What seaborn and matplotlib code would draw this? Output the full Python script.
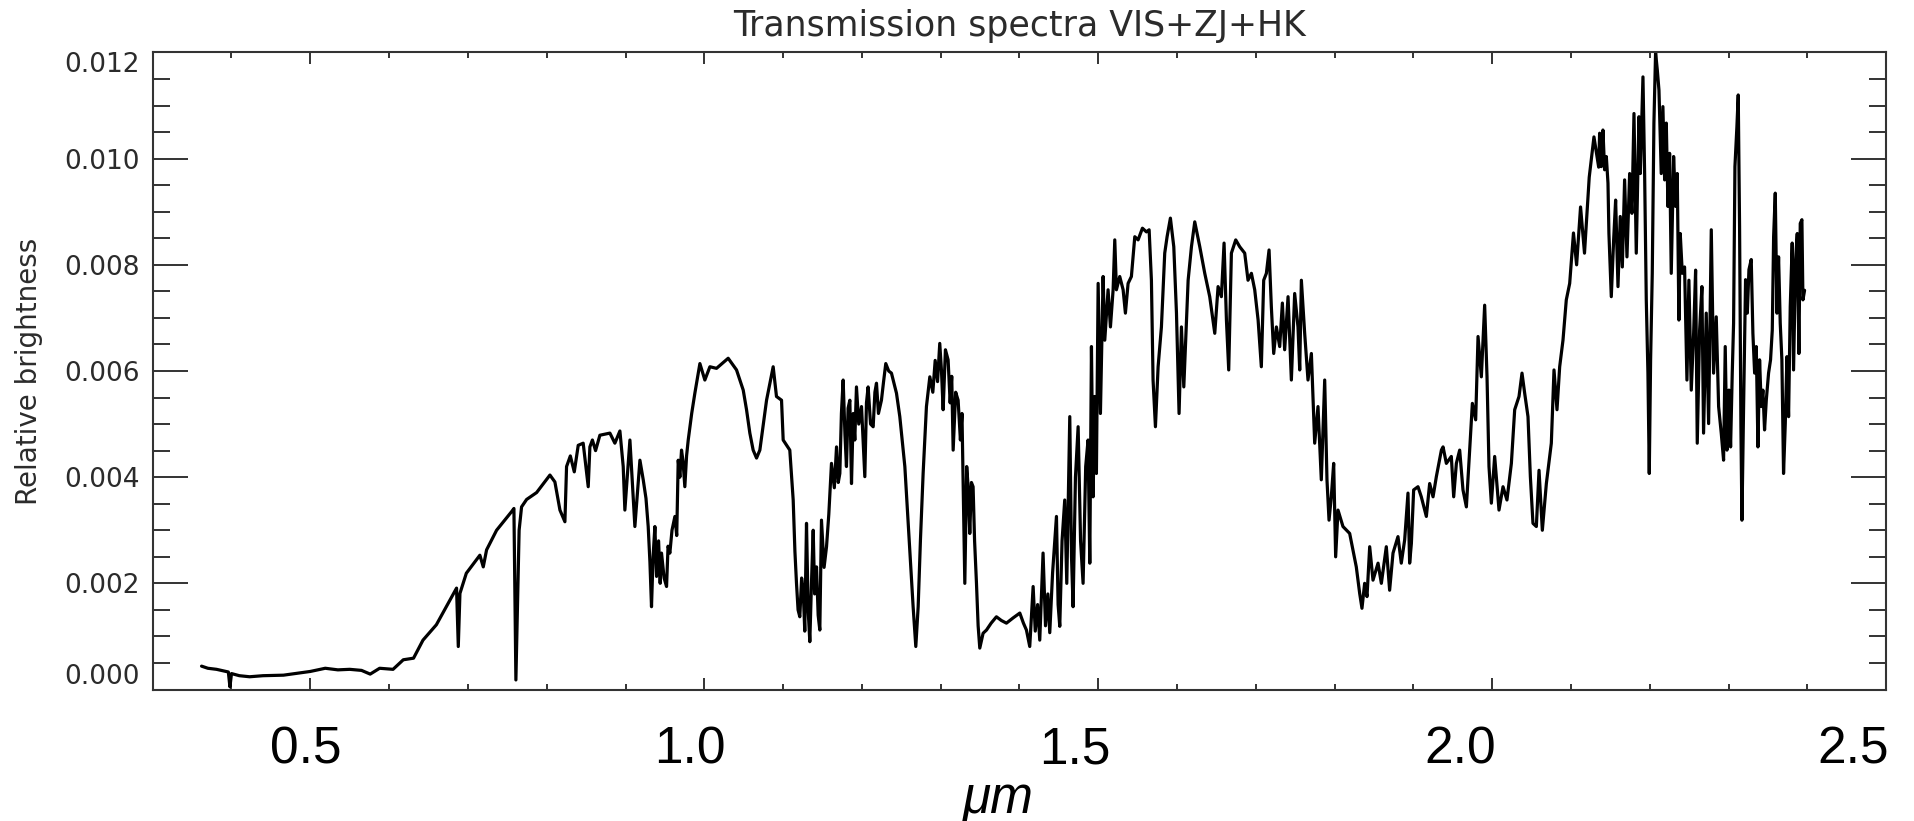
import matplotlib
matplotlib.use("Agg")
import matplotlib.pyplot as plt
import matplotlib.transforms as mtransforms
import seaborn as sns
import pandas as pd
from matplotlib.ticker import MultipleLocator, FormatStrFormatter

# Transmission spectrum, (wavelength [um], relative brightness) per arm
vis_band = [
    (0.362, 0.00044), (0.370, 0.00040), (0.381, 0.00038), (0.390, 0.00035),
    (0.396, 0.00033), (0.398, 0.00005), (0.400, 0.00030), (0.410, 0.00026),
    (0.423, 0.00024), (0.440, 0.00026), (0.466, 0.00027), (0.500, 0.00034),
    (0.519, 0.00040), (0.535, 0.00037), (0.550, 0.00038), (0.565, 0.00036),
    (0.576, 0.00029), (0.588, 0.00040), (0.605, 0.00038), (0.618, 0.00056),
    (0.631, 0.00059), (0.643, 0.00093), (0.660, 0.00122), (0.6856, 0.00191),
    (0.6878, 0.00081), (0.6899, 0.00181), (0.698, 0.00219), (0.7152, 0.00253),
    (0.7195, 0.00231), (0.7237, 0.00263), (0.7364, 0.00300), (0.7554, 0.00335),
    (0.7584, 0.00341), (0.7609, 0.00018), (0.7650, 0.00300), (0.7681, 0.00344),
    (0.7745, 0.00358), (0.7872, 0.00371), (0.8041, 0.00404), (0.8104, 0.00391),
    (0.8168, 0.00338), (0.8231, 0.00316), (0.8252, 0.00420), (0.830, 0.00440),
    (0.835, 0.00410), (0.840, 0.00460), (0.8463, 0.00464), (0.8527, 0.00382),
    (0.8548, 0.00457), (0.858, 0.00470), (0.862, 0.00450), (0.8675, 0.00479),
    (0.8802, 0.00483), (0.8865, 0.00464), (0.8929, 0.00487), (0.8971, 0.00420),
    (0.8992, 0.00338), (0.9056, 0.00470), (0.9119, 0.00307), (0.9183, 0.00432),
    (0.9225, 0.00395),
]

zj_band = [
    (0.9260, 0.00360), (0.9288, 0.00307), (0.9310, 0.00240), (0.9330, 0.00156),
    (0.9350, 0.00250), (0.9373, 0.00307), (0.9394, 0.00213), (0.9420, 0.00280),
    (0.9440, 0.00200), (0.9457, 0.00257), (0.9490, 0.00210), (0.9521, 0.00194),
    (0.9540, 0.00270), (0.9563, 0.00257), (0.9590, 0.00300), (0.9627, 0.00326),
    (0.9650, 0.00290), (0.9669, 0.00432), (0.9690, 0.00400), (0.9711, 0.00451),
    (0.9730, 0.00430), (0.9753, 0.00382), (0.9775, 0.00440), (0.9796, 0.00470),
    (0.9840, 0.00520), (0.9880, 0.00558), (0.9944, 0.00614), (1.0007, 0.00583),
    (1.0071, 0.00608), (1.0155, 0.00605), (1.0303, 0.00624), (1.0409, 0.00602),
    (1.0494, 0.00564), (1.0536, 0.00527), (1.0578, 0.00483), (1.0620, 0.00451),
    (1.0663, 0.00436), (1.0705, 0.00451), (1.0790, 0.00545), (1.0874, 0.00608),
    (1.0916, 0.00552), (1.0980, 0.00545), (1.1001, 0.00470), (1.1085, 0.00451),
    (1.1128, 0.00357), (1.1150, 0.00260), (1.1170, 0.00200), (1.1190, 0.00150),
    (1.1212, 0.00137), (1.1235, 0.00210), (1.1255, 0.00187), (1.1275, 0.00110),
    (1.1297, 0.00313), (1.1318, 0.00150), (1.1339, 0.00090), (1.1360, 0.00200),
    (1.1382, 0.00300), (1.1400, 0.00180), (1.1424, 0.00231), (1.1445, 0.00140),
    (1.1466, 0.00112), (1.1487, 0.00319), (1.1520, 0.00230), (1.1551, 0.00269),
    (1.1580, 0.00330), (1.1614, 0.00426), (1.1650, 0.00380), (1.1678, 0.00457),
    (1.1700, 0.00390), (1.1720, 0.00407), (1.1740, 0.00520), (1.1762, 0.00583),
    (1.1785, 0.00480), (1.1804, 0.00420), (1.1825, 0.00530), (1.1847, 0.00545),
    (1.1868, 0.00388), (1.1890, 0.00520), (1.1910, 0.00470), (1.1931, 0.00570),
    (1.1960, 0.00500), (1.1995, 0.00533), (1.2015, 0.00470), (1.2037, 0.00401),
    (1.2058, 0.00540), (1.2079, 0.00570), (1.2110, 0.00500), (1.2143, 0.00495),
    (1.2165, 0.00560), (1.2185, 0.00577), (1.2210, 0.00520), (1.2248, 0.00545),
    (1.2275, 0.00580), (1.2303, 0.00614), (1.2340, 0.00600), (1.2375, 0.00596),
    (1.2410, 0.00575), (1.2439, 0.00558), (1.2481, 0.00514), (1.2545, 0.00420),
    (1.2608, 0.00263), (1.2650, 0.00156), (1.2684, 0.00081), (1.2714, 0.00156),
    (1.2743, 0.00282), (1.2777, 0.00407), (1.2819, 0.00533), (1.2862, 0.00589),
    (1.2900, 0.00560), (1.2930, 0.00620), (1.2960, 0.00580), (1.2988, 0.00652),
    (1.3010, 0.00600), (1.3031, 0.00527), (1.3060, 0.00640), (1.3094, 0.00621),
    (1.3120, 0.00540), (1.3140, 0.00590), (1.3158, 0.00451), (1.3190, 0.00560),
    (1.3221, 0.00545), (1.3250, 0.00470), (1.3270, 0.00520), (1.3285, 0.00382),
    (1.3306, 0.00200), (1.3330, 0.00420), (1.3348, 0.00382), (1.3369, 0.00294),
    (1.3390, 0.00390), (1.3411, 0.00382), (1.3430, 0.00280), (1.3454, 0.00200),
    (1.3475, 0.00120), (1.3496, 0.00078),
]

hk_band = [
    (1.3538, 0.00106), (1.3581, 0.00112), (1.3640, 0.00125), (1.3707, 0.00137),
    (1.3770, 0.00130), (1.3834, 0.00125), (1.3920, 0.00135), (1.4004, 0.00144),
    (1.4050, 0.00125), (1.4088, 0.00112), (1.4130, 0.00081), (1.4173, 0.00194),
    (1.4200, 0.00110), (1.4230, 0.00160), (1.4257, 0.00093), (1.4299, 0.00257),
    (1.4330, 0.00120), (1.4360, 0.00180), (1.4384, 0.00107), (1.4420, 0.00220),
    (1.4469, 0.00326), (1.4490, 0.00160), (1.4511, 0.00119), (1.4540, 0.00280),
    (1.4574, 0.00357), (1.4600, 0.00200), (1.4638, 0.00514), (1.4660, 0.00250),
    (1.4680, 0.00156), (1.4710, 0.00400), (1.4744, 0.00495), (1.4775, 0.00280),
    (1.4807, 0.00200), (1.4840, 0.00420), (1.4870, 0.00470), (1.4892, 0.00238),
    (1.4913, 0.00646), (1.4934, 0.00363), (1.4955, 0.00552), (1.4976, 0.00407),
    (1.4998, 0.00765), (1.5027, 0.00520), (1.5061, 0.00778), (1.5082, 0.00658),
    (1.5124, 0.00753), (1.5154, 0.00683), (1.5188, 0.00753), (1.5209, 0.00847),
    (1.5230, 0.00753), (1.5272, 0.00778), (1.5315, 0.00753), (1.5344, 0.00709),
    (1.5378, 0.00765), (1.5420, 0.00778), (1.5463, 0.00853), (1.5505, 0.00847),
    (1.5560, 0.00869), (1.5611, 0.00862), (1.5645, 0.00866), (1.5674, 0.00771),
    (1.5695, 0.00583), (1.5725, 0.00495), (1.5759, 0.00608), (1.5801, 0.00683),
    (1.5843, 0.00822), (1.5873, 0.00853), (1.5915, 0.00888), (1.5958, 0.00834),
    (1.5992, 0.00709), (1.6025, 0.00520), (1.6055, 0.00683), (1.6085, 0.00570),
    (1.6140, 0.00771), (1.6182, 0.00834), (1.6224, 0.00881), (1.6288, 0.00834),
    (1.6351, 0.00784), (1.6414, 0.00740), (1.6478, 0.00671), (1.6520, 0.00759),
    (1.6562, 0.00740), (1.6596, 0.00841), (1.6626, 0.00696), (1.6655, 0.00602),
    (1.6689, 0.00822), (1.6744, 0.00847), (1.6795, 0.00834), (1.6858, 0.00822),
    (1.6900, 0.00771), (1.6943, 0.00784), (1.6985, 0.00753), (1.7028, 0.00696),
    (1.7069, 0.00608), (1.7099, 0.00771), (1.7133, 0.00784), (1.7167, 0.00828),
    (1.7196, 0.00721), (1.7226, 0.00633), (1.7260, 0.00683), (1.7302, 0.00646),
    (1.7336, 0.00728), (1.7365, 0.00640), (1.7408, 0.00740), (1.7450, 0.00583),
    (1.7492, 0.00746), (1.7534, 0.00683), (1.7556, 0.00602), (1.7577, 0.00771),
    (1.7619, 0.00671), (1.7661, 0.00583), (1.7704, 0.00633), (1.7746, 0.00464),
    (1.7788, 0.00533), (1.7830, 0.00395), (1.7873, 0.00583), (1.7902, 0.00395),
    (1.7928, 0.00319), (1.7957, 0.00363), (1.7987, 0.00426), (1.8012, 0.00250),
    (1.8042, 0.00338), (1.8105, 0.00307), (1.8190, 0.00294), (1.8274, 0.00231),
    (1.8317, 0.00181), (1.8346, 0.00153), (1.8380, 0.00200), (1.8410, 0.00175),
    (1.8444, 0.00269), (1.8486, 0.00206), (1.8550, 0.00238), (1.8592, 0.00200),
    (1.8655, 0.00269), (1.8697, 0.00187), (1.8740, 0.00257), (1.8803, 0.00288),
    (1.8845, 0.00238), (1.8888, 0.00282), (1.8930, 0.00370), (1.8951, 0.00238),
    (1.8973, 0.00275), (1.9002, 0.00376), (1.9057, 0.00382), (1.9099, 0.00363),
    (1.9163, 0.00326), (1.9205, 0.00388), (1.9248, 0.00363), (1.9290, 0.00401),
    (1.9354, 0.00451), (1.9375, 0.00457), (1.9417, 0.00426), (1.9480, 0.00439),
    (1.9510, 0.00363), (1.9544, 0.00426), (1.9586, 0.00451), (1.9628, 0.00376),
    (1.9671, 0.00344), (1.9713, 0.00451), (1.9747, 0.00539), (1.9789, 0.00508),
    (1.9819, 0.00665), (1.9861, 0.00589), (1.9903, 0.00724), (1.9933, 0.00589),
    (1.9958, 0.00420), (1.9988, 0.00351), (2.0030, 0.00439), (2.0085, 0.00338),
    (2.0136, 0.00382), (2.0186, 0.00357), (2.0242, 0.00426), (2.0284, 0.00527),
    (2.0339, 0.00552), (2.0377, 0.00596), (2.0411, 0.00558), (2.0453, 0.00514),
    (2.0483, 0.00401), (2.0516, 0.00313), (2.0559, 0.00307), (2.0593, 0.00413),
    (2.0635, 0.00300), (2.0686, 0.00388), (2.0749, 0.00464), (2.0783, 0.00602),
    (2.0821, 0.00527), (2.0855, 0.00608), (2.0897, 0.00658), (2.0939, 0.00734),
    (2.0982, 0.00765), (2.1030, 0.00860), (2.1070, 0.00800), (2.1120, 0.00909),
    (2.1170, 0.00822), (2.1230, 0.00965), (2.1290, 0.01041), (2.1350, 0.00984),
    (2.1362, 0.01048), (2.1383, 0.00985), (2.1404, 0.01054), (2.1425, 0.00979),
    (2.1447, 0.01004), (2.1468, 0.00954), (2.1480, 0.00859), (2.1510, 0.00740),
    (2.1540, 0.00847), (2.1565, 0.00922), (2.1595, 0.00759), (2.1624, 0.00891),
    (2.1650, 0.00796), (2.1679, 0.00960), (2.1709, 0.00815), (2.1743, 0.00972),
    (2.1772, 0.00897), (2.1798, 0.01085), (2.1827, 0.00822), (2.1861, 0.01079),
    (2.1878, 0.00972), (2.1912, 0.01154), (2.1933, 0.00972), (2.1954, 0.00734),
    (2.1975, 0.00596), (2.1992, 0.00407), (2.2009, 0.00621), (2.2030, 0.00784),
    (2.2051, 0.01067), (2.2072, 0.01200), (2.2094, 0.01167), (2.2115, 0.01129),
    (2.2144, 0.00972), (2.2165, 0.01098), (2.2187, 0.00960), (2.2208, 0.01067),
    (2.2229, 0.00910), (2.2250, 0.01010), (2.2271, 0.00784), (2.2301, 0.01004),
    (2.2326, 0.00910), (2.2347, 0.00972), (2.2368, 0.00696), (2.2385, 0.00859),
    (2.2411, 0.00784), (2.2440, 0.00796), (2.2470, 0.00583), (2.2495, 0.00771),
    (2.2525, 0.00564), (2.2555, 0.00671), (2.2580, 0.00790), (2.2601, 0.00464),
    (2.2631, 0.00677), (2.2660, 0.00759), (2.2681, 0.00483), (2.2715, 0.00709),
    (2.2745, 0.00501), (2.2779, 0.00866), (2.2808, 0.00596), (2.2842, 0.00702),
    (2.2872, 0.00533), (2.2906, 0.00482), (2.2935, 0.00432), (2.2956, 0.00646),
    (2.2978, 0.00451), (2.3003, 0.00564), (2.3024, 0.00457), (2.3045, 0.00596),
    (2.3062, 0.00690), (2.3079, 0.00985), (2.3104, 0.01060), (2.3121, 0.01120),
    (2.3138, 0.00872), (2.3155, 0.00495), (2.3168, 0.00319), (2.3189, 0.00533),
    (2.3214, 0.00772), (2.3236, 0.00709), (2.3257, 0.00791), (2.3286, 0.00810),
    (2.3307, 0.00671), (2.3329, 0.00596), (2.3350, 0.00646), (2.3371, 0.00457),
    (2.3392, 0.00621), (2.3413, 0.00533), (2.3434, 0.00564), (2.3455, 0.00489),
    (2.3477, 0.00545), (2.3506, 0.00596), (2.3531, 0.00621), (2.3553, 0.00677),
    (2.3570, 0.00853), (2.3591, 0.00935), (2.3612, 0.00709), (2.3633, 0.00815),
    (2.3654, 0.00690), (2.3675, 0.00621), (2.3696, 0.00407), (2.3718, 0.00501),
    (2.3739, 0.00627), (2.3760, 0.00514), (2.3781, 0.00721), (2.3806, 0.00841),
    (2.3823, 0.00602), (2.3849, 0.00810), (2.3870, 0.00859), (2.3891, 0.00633),
    (2.3908, 0.00878), (2.3929, 0.00885), (2.3942, 0.00734), (2.3963, 0.00752),
]

x_tick_values = [0.5, 1.0, 1.5, 2.0, 2.5]
y_tick_values = [0.000, 0.002, 0.004, 0.006, 0.008, 0.010, 0.012]

title_text = "Transmission spectra VIS+ZJ+HK"
x_label = "\u03bcm"
y_label = "Relative brightness"

spectrum = pd.DataFrame(vis_band + zj_band + hk_band,
                        columns=["wavelength", "brightness"])

sns.set_theme(style="ticks")
plt.rcParams["font.family"] = ["DejaVu Sans"]

W, H = 1915, 821
fig = plt.figure(figsize=(W / 100, H / 100), dpi=100)
left, right, top, bottom = 152.7, 1886.3, 52.5, 689.5
ax = fig.add_axes([left / W, 1 - bottom / H, (right - left) / W, (bottom - top) / H])

sns.lineplot(data=spectrum, x="wavelength", y="brightness", sort=False,
             estimator=None, color="black", linewidth=2.3, ax=ax)

ax.set_xlim(0.3, 2.5)
ax.set_ylim(0.0, 0.012)

frame_color = "#333333"
for side in ax.spines.values():
    side.set_color(frame_color)
    side.set_linewidth(1.5)

ax.set_xticks(x_tick_values)
ax.set_yticks(y_tick_values)
ax.xaxis.set_minor_locator(MultipleLocator(0.1))
ax.yaxis.set_minor_locator(MultipleLocator(0.0005))
ax.xaxis.set_major_formatter(FormatStrFormatter("%.1f"))
ax.yaxis.set_major_formatter(FormatStrFormatter("%.3f"))

ax.tick_params(which="both", direction="in", top=True, right=True,
               color=frame_color, width=1.4)
ax.tick_params(axis="x", which="major", length=8.6, pad=26,
               labelsize=37, labelcolor="black")
ax.tick_params(axis="x", which="minor", length=4.3)
ax.tick_params(axis="y", which="major", length=25, pad=9,
               labelsize=19, labelcolor="#2b2b2b")
ax.tick_params(axis="y", which="minor", length=12.5)

# the large wavelength labels sit slightly left of their ticks
label_shift_px = [-5, -14, -23, -32, -33]
for tick, dx in zip(ax.xaxis.get_major_ticks(), label_shift_px):
    tick.label1.set_fontfamily("Liberation Sans")
    tick.label1.set_transform(tick.label1.get_transform() +
                              mtransforms.Affine2D().translate(dx, 0))

# keep the end labels of the value axis inside the frame
ytick_objs = ax.yaxis.get_major_ticks()
ytick_objs[0].label1.set_verticalalignment("bottom")
ytick_objs[-1].label1.set_verticalalignment("top")

ax.set_title(title_text, fontsize=25, color="#2b2b2b", pad=12)
ax.set_xlabel(x_label, fontsize=37, fontstyle="italic",
              fontfamily="Liberation Sans", color="black")
ax.xaxis.set_label_coords((998 - left) / (right - left), -(775 - bottom) / (bottom - top))
ax.set_ylabel(y_label, fontsize=20, color="#2b2b2b")
ax.yaxis.set_label_coords(-(left - 43) / (right - left), 0.5)

fig.savefig("out.png", dpi=100, facecolor="white")
